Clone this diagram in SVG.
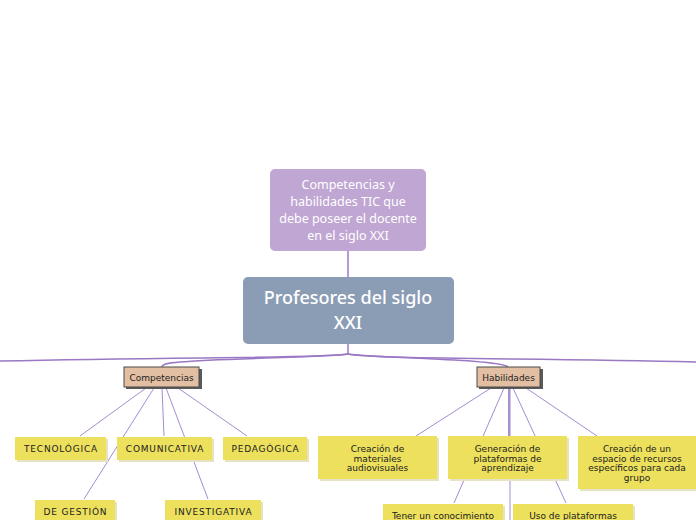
<svg xmlns="http://www.w3.org/2000/svg" width="696" height="520" viewBox="0 0 696 520">
<defs>
<style>
.ln{fill:none;stroke:#a58cd0;stroke-width:1}
.root{fill:none;stroke:#9a78c4;stroke-width:1.5}
.ybox{fill:#ece05c}
.ysh{fill:#e6e2c4}
.tbox{fill:#e2bfa2;stroke:#4a4a4a;stroke-width:1}
.tsh{fill:#5a5a5a}
.yt{font-family:"DejaVu Sans",sans-serif;font-size:9px;fill:#222;text-anchor:middle}
.ct{font-family:"DejaVu Sans",sans-serif;font-size:9px;fill:#222;text-anchor:middle;letter-spacing:0.8px}
.ut{font-family:"DejaVu Sans",sans-serif;font-size:9px;fill:#222;text-anchor:middle}
.wt{font-family:"Noto Sans","Open Sans",sans-serif;fill:#fff;text-anchor:middle}
</style>
</defs>
<rect width="696" height="520" fill="#fff"/>
<g id="connectors">
<path class="root" d="M348,251 L348,277"/>
<path class="root" d="M348,344 L348,354"/>
<path class="root" d="M348,354 C330,358 200,357 0,361"/>
<path class="root" d="M348,354 C320,358 220,358 180,362 C168,363 162,364 162,367"/>
<path class="root" d="M348,354 C370,358 500,359 508,367"/>
<path class="root" d="M348,354 C370,359 520,358 696,362"/>
<path class="ln" d="M146,388 L80,436"/>
<path class="ln" d="M154,388 L84,499"/>
<path class="ln" d="M162,388 L164,436"/>
<path class="ln" d="M166,388 L208,499"/>
<path class="ln" d="M178,388 L247,436"/>
<path class="ln" d="M491,388 L416,436"/>
<path class="ln" d="M504,388 L454,503"/>
<path class="ln" d="M509,388 L509,436" style="stroke:#8a6cbc;stroke-width:1.5"/>
<path class="ln" d="M510,388 L510,520"/>
<path class="ln" d="M513,388 L566,503"/>
<path class="ln" d="M526,388 L597,436"/>
</g>
<g id="n-tic">
<rect x="270" y="169" width="156" height="82" rx="5" fill="#c0a6d3"/>
<text class="wt" font-size="12.5" x="348" y="189">Competencias y</text>
<text class="wt" font-size="12.5" x="348" y="206">habilidades TIC que</text>
<text class="wt" font-size="12.5" x="348" y="223">debe poseer el docente</text>
<text class="wt" font-size="12.5" x="348" y="240">en el siglo XXI</text>
</g>
<g id="n-root">
<rect x="243" y="277" width="211" height="67" rx="5" fill="#8b9db4"/>
<text class="wt" font-size="18" font-weight="500" x="348" y="304">Profesores del siglo</text>
<text class="wt" font-size="18" font-weight="500" x="348" y="329">XXI</text>
</g>
<g id="n-competencias">
<rect class="tsh" x="126" y="369" width="76" height="20"/>
<rect class="tbox" x="124" y="367" width="75" height="20"/>
<text class="ut" x="161.5" y="380.5">Competencias</text>
</g>
<g id="n-habilidades">
<rect class="tsh" x="479" y="369" width="64" height="20"/>
<rect class="tbox" x="477" y="367" width="63" height="20"/>
<text class="ut" x="508.5" y="380.5">Habilidades</text>
</g>
<g id="n-tecnologica">
<rect class="ysh" x="17" y="439" width="91" height="23"/>
<rect class="ybox" x="15" y="437" width="91" height="23"/>
<text class="ct" x="61" y="452">TECNOLÓGICA</text>
</g>
<g id="n-comunicativa">
<rect class="ysh" x="119" y="439" width="95" height="23"/>
<rect class="ybox" x="117" y="437" width="95" height="23"/>
<text class="ct" x="165" y="452">COMUNICATIVA</text>
</g>
<g id="n-pedagogica">
<rect class="ysh" x="225" y="439" width="84" height="23"/>
<rect class="ybox" x="223" y="437" width="84" height="23"/>
<text class="ct" x="265.5" y="452">PEDAGÓGICA</text>
</g>
<g id="n-gestion">
<rect class="ysh" x="37" y="502" width="80" height="23"/>
<rect class="ybox" x="35" y="500" width="80" height="23"/>
<text class="ct" x="75.5" y="515">DE GESTIÓN</text>
</g>
<g id="n-investigativa">
<rect class="ysh" x="167" y="502" width="96" height="23"/>
<rect class="ybox" x="165" y="500" width="96" height="23"/>
<text class="ct" x="213.5" y="515">INVESTIGATIVA</text>
</g>
<g id="n-materiales">
<rect class="ysh" x="320" y="438" width="119" height="43"/>
<rect class="ybox" x="318" y="436" width="119" height="43"/>
<text class="yt" x="377.5" y="452">Creación de</text>
<text class="yt" x="377.5" y="461.5">materiales</text>
<text class="yt" x="377.5" y="471">audiovisuales</text>
</g>
<g id="n-generacion">
<rect class="ysh" x="450" y="438" width="119" height="43"/>
<rect class="ybox" x="448" y="436" width="119" height="43"/>
<text class="yt" x="507.5" y="452">Generación de</text>
<text class="yt" x="507.5" y="461.5">plataformas de</text>
<text class="yt" x="507.5" y="471">aprendizaje</text>
</g>
<g id="n-espacio">
<rect class="ysh" x="580" y="438" width="118" height="53"/>
<rect class="ybox" x="578" y="436" width="118" height="53"/>
<text class="yt" x="637" y="452">Creación de un</text>
<text class="yt" x="637" y="461.5">espacio de recursos</text>
<text class="yt" x="637" y="471">específicos para cada</text>
<text class="yt" x="637" y="480.5">grupo</text>
</g>
<g id="n-conocimiento">
<rect class="ysh" x="385" y="506" width="120" height="23"/>
<rect class="ybox" x="383" y="504" width="120" height="23"/>
<text class="yt" x="443" y="519">Tener un conocimiento</text>
</g>
<g id="n-uso">
<rect class="ysh" x="515" y="506" width="120" height="23"/>
<rect class="ybox" x="513" y="504" width="120" height="23"/>
<text class="yt" x="573" y="519">Uso de plataformas</text>
</g>
</svg>
